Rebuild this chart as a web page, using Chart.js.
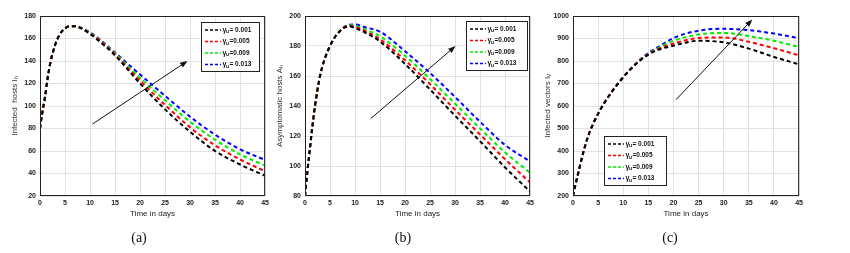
<!DOCTYPE html>
<html>
<head>
<meta charset="utf-8">
<script src="https://cdn.jsdelivr.net/npm/chart.js@4.4.1/dist/chart.umd.min.js"></script>
<style>
	body { margin: 0; background: #fff; }
	#wrap { position: relative; width: 850px; height: 253px; overflow: hidden; }
	canvas { position: absolute; top: 0; }
	.cap { position: absolute; top: 230px; font-family: "Liberation Serif", "DejaVu Serif", serif; font-size: 14px; color: #111; transform: translateX(-50%); }
</style>
</head>
<body>
<div id="wrap">
	<canvas id="chartA" width="272" height="253" style="left:0px"></canvas>
	<canvas id="chartB" width="272" height="253" style="left:265px"></canvas>
	<canvas id="chartC" width="273" height="253" style="left:533px"></canvas>
	<div class="cap" style="left:139px">(a)</div>
	<div class="cap" style="left:403px">(b)</div>
	<div class="cap" style="left:670px">(c)</div>
</div>
<script>
// gamma_u values shown in every legend
const gammaLabels = ["= 0.001", "=0.005", "=0.009", "= 0.013"];
const seriesColors = ["#000000", "#ff0000", "#00ee00", "#0000ff"];

// (a) infected hosts I_h
const daysA = [0, 0.5, 1, 1.5, 2, 3, 4, 5, 6, 7, 8, 10, 12, 15, 20, 25, 30, 35, 40, 45];
const infA_001 = [80, 95, 108, 124, 137, 154, 164, 169, 171, 171, 169.5, 164, 157, 145, 120, 97, 77, 60, 48, 38];
const infA_005 = [80, 95, 108, 124, 137, 154, 164, 169, 171, 171, 169.7, 164.5, 158, 146, 122.5, 101, 81, 65, 52.5, 42];
const infA_009 = [80, 95, 108, 124, 137, 154, 164, 169, 171, 171, 169.9, 165, 158.5, 146.8, 125, 105, 86, 70, 57, 47];
const infA_013 = [80, 95, 108, 124, 137, 154, 164, 169, 171, 171, 170.1, 165.5, 159, 147.5, 128, 109, 90.5, 74.5, 61.5, 52];

// (b) asymptomatic hosts A_h
const daysB = [0, 0.5, 1, 1.5, 2, 3, 4, 5, 6, 7, 8, 9, 10, 12, 15, 20, 25, 30, 35, 40, 45];
const asymB_001 = [80, 97, 112, 127, 140, 160, 172, 180, 186, 190, 192.5, 193, 192, 189, 183, 168, 151, 133.5, 116.5, 99, 83];
const asymB_005 = [80, 97, 112, 127, 140, 160, 172, 180, 186, 190, 192.7, 193.4, 192.8, 190, 184.5, 170.5, 154.5, 137.5, 121, 104.5, 89];
const asymB_009 = [80, 97, 112, 127, 140, 160, 172, 180, 186, 190, 192.9, 193.8, 193.5, 191, 186.5, 173.5, 158, 141.5, 125, 109, 95.5];
const asymB_013 = [80, 97, 112, 127, 140, 160, 172, 180, 186, 190, 193.1, 194.2, 194.3, 192.5, 189.5, 176.5, 162, 146, 129.5, 114, 103];

// (c) infected vectors I_v
const daysC = [0, 0.5, 1, 1.5, 2, 3, 4, 5, 7, 10, 13, 15, 17, 20, 25, 30, 35, 40, 45];
const vecC_001 = [200, 252, 298, 345, 390, 465, 520, 566, 640, 728, 796, 828, 850, 868, 890, 883, 855, 818, 785];
const vecC_005 = [200, 252, 298, 345, 390, 465, 520, 566, 640, 728, 797, 830, 854, 878, 902, 905, 885, 857, 825];
const vecC_009 = [200, 252, 298, 345, 390, 465, 520, 566, 640, 728, 798, 832, 858, 890, 918, 925, 910, 890, 862];
const vecC_013 = [200, 252, 298, 345, 390, 465, 520, 566, 640, 728, 799, 836, 863, 902, 935, 943, 937, 922, 902];

const tickFont = { family: "Liberation Sans, Arial, sans-serif", size: 7, weight: "bold" };
const titleFont = { family: "Liberation Sans, Arial, sans-serif", size: 8 };

// frame, arrow and hand-made legend (the legend needs a subscript)
const decor = {
	id: "decor",
	afterDraw(chart, args, opts) {
		const { ctx, chartArea: a, scales } = chart;
		ctx.save();

		ctx.strokeStyle = "#222";
		ctx.lineWidth = 1;
		ctx.setLineDash([]);
		ctx.strokeRect(a.left + 0.5, a.top + 0.5, a.right - a.left - 1, a.bottom - a.top - 1);

		const x0 = scales.x.getPixelForValue(opts.arrow[0][0]);
		const y0 = scales.y.getPixelForValue(opts.arrow[0][1]);
		const x1 = scales.x.getPixelForValue(opts.arrow[1][0]);
		const y1 = scales.y.getPixelForValue(opts.arrow[1][1]);
		const ang = Math.atan2(y1 - y0, x1 - x0);
		ctx.strokeStyle = "#111";
		ctx.fillStyle = "#111";
		ctx.beginPath();
		ctx.moveTo(x0, y0);
		ctx.lineTo(x1 - 5 * Math.cos(ang), y1 - 5 * Math.sin(ang));
		ctx.stroke();
		ctx.beginPath();
		ctx.moveTo(x1, y1);
		ctx.lineTo(x1 - 8 * Math.cos(ang - 0.35), y1 - 8 * Math.sin(ang - 0.35));
		ctx.lineTo(x1 - 8 * Math.cos(ang + 0.35), y1 - 8 * Math.sin(ang + 0.35));
		ctx.closePath();
		ctx.fill();

		const lx = a.left + opts.legend.left;
		const ly = a.top + opts.legend.top;
		const lw = opts.legend.width, lh = 49;
		ctx.fillStyle = "#fff";
		ctx.fillRect(lx, ly, lw, lh);
		ctx.strokeStyle = "#222";
		ctx.strokeRect(lx + 0.5, ly + 0.5, lw, lh);
		gammaLabels.forEach((lab, i) => {
			const ry = ly + 8 + i * 11.5;
			ctx.strokeStyle = seriesColors[i];
			ctx.lineWidth = 1.5;
			ctx.setLineDash([3, 2]);
			ctx.beginPath();
			ctx.moveTo(lx + 4, ry);
			ctx.lineTo(lx + 20, ry);
			ctx.stroke();
			ctx.setLineDash([]);
			ctx.fillStyle = "#111";
			ctx.textBaseline = "middle";
			ctx.font = "bold 7px Liberation Sans, Arial, sans-serif";
			ctx.fillText("\u03b3", lx + 21.5, ry);
			ctx.font = "bold 5px Liberation Sans, Arial, sans-serif";
			ctx.fillText("u", lx + 25, ry + 2);
			ctx.font = "bold 6.5px Liberation Sans, Arial, sans-serif";
			ctx.fillText(lab, lx + 28.5, ry);
		});
		ctx.restore();
	},
};

const makeChart = (id, days, series, yMin, yMax, yStep, yTitle, legend, arrow) => {
	new Chart(document.getElementById(id), {
		type: "line",
		data: {
			datasets: series.map((vals, i) => ({
				label: gammaLabels[i],
				data: days.map((d, j) => ({ x: d, y: vals[j] })),
				borderColor: seriesColors[i],
				borderWidth: 2,
				borderDash: [4, 3],
				pointRadius: 0,
				cubicInterpolationMode: "monotone",
				fill: false,
			})),
		},
		plugins: [decor],
		options: {
			responsive: false,
			animation: false,
			layout: { padding: { left: 0, right: 4, top: 16, bottom: 29 } },
			plugins: {
				legend: { display: false },
				tooltip: { enabled: false },
				decor: { legend, arrow },
			},
			scales: {
				x: {
					type: "linear",
					min: 0,
					max: 45,
					ticks: { stepSize: 5, font: tickFont, color: "#222", padding: 3, maxRotation: 0 },
					grid: { color: "#e2e2e2", drawTicks: false },
					border: { display: false },
					title: { display: true, text: "Time in days", font: titleFont, color: "#222", padding: { top: 2, bottom: 5 } },
					afterFit: (s) => { s.height = 28; },
				},
				y: {
					min: yMin,
					max: yMax,
					ticks: { stepSize: yStep, font: tickFont, color: "#222", padding: 4, callback: (v) => String(v) },
					grid: { color: "#e2e2e2", drawTicks: false },
					border: { display: false },
					title: { display: true, text: yTitle, font: titleFont, color: "#333", padding: { top: 10, bottom: 0 } },
					afterFit: (s) => { s.width = 40; },
				},
			},
		},
	});
};

makeChart("chartA", daysA, [infA_001, infA_005, infA_009, infA_013], 20, 180, 20,
	"Infected  hosts I\u2095", { left: 161, top: 6, width: 58 }, [[10.5, 84], [29.5, 140]]);
makeChart("chartB", daysB, [asymB_001, asymB_005, asymB_009, asymB_013], 80, 200, 20,
	"Asymptomatic hosts A\u2095", { left: 161, top: 5, width: 61 }, [[13.1, 131.5], [30.1, 180]]);
makeChart("chartC", daysC, [vecC_001, vecC_005, vecC_009, vecC_013], 200, 1000, 100,
	"Infected vectors I\u1d65", { left: 31, top: 120, width: 62 }, [[20.5, 628], [35.7, 985]]);
</script>
</body>
</html>
